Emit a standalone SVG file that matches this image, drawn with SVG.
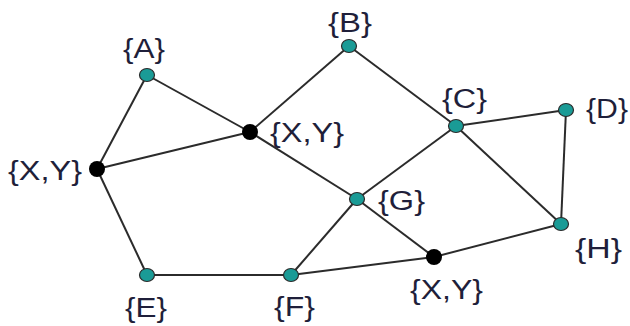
<svg xmlns="http://www.w3.org/2000/svg" width="630" height="326" viewBox="0 0 630 326">
<style>
.e{stroke:#2b2b2b;stroke-width:2;fill:none}
.t{fill:#1a9b96;stroke:#2a2a2a;stroke-width:1.2}
.k{fill:#000}
text{font-family:"Liberation Sans",Arial,sans-serif;font-size:27px;fill:#1f1f3a}
</style>
<rect width="630" height="326" fill="#fff"/>
<g id="edges">
<line class="e" x1="147" y1="75" x2="97" y2="169"/>
<line class="e" x1="147" y1="75" x2="250" y2="132"/>
<line class="e" x1="97" y1="169" x2="250" y2="132"/>
<line class="e" x1="250" y1="132" x2="349" y2="46"/>
<line class="e" x1="349" y1="46" x2="456" y2="126"/>
<line class="e" x1="250" y1="132" x2="357" y2="199"/>
<line class="e" x1="357" y1="199" x2="434" y2="257"/>
<line class="e" x1="456" y1="126" x2="566" y2="110"/>
<line class="e" x1="456" y1="126" x2="357" y2="199"/>
<line class="e" x1="456" y1="126" x2="561" y2="224"/>
<line class="e" x1="566" y1="110" x2="561" y2="224"/>
<line class="e" x1="357" y1="199" x2="291" y2="275"/>
<line class="e" x1="97" y1="169" x2="147" y2="275"/>
<line class="e" x1="147" y1="275" x2="291" y2="275"/>
<line class="e" x1="291" y1="275" x2="434" y2="257"/>
<line class="e" x1="434" y1="257" x2="561" y2="224"/>
</g>
<g id="nA"><ellipse class="t" cx="147" cy="75" rx="7.5" ry="6.5"/><text x="123" y="58" textLength="42" lengthAdjust="spacingAndGlyphs">{A}</text></g>
<g id="nB"><ellipse class="t" cx="349" cy="46" rx="7.5" ry="6.5"/><text x="328" y="32" textLength="44" lengthAdjust="spacingAndGlyphs">{B}</text></g>
<g id="nC"><ellipse class="t" cx="456" cy="126" rx="7.5" ry="6.5"/><text x="442" y="108" textLength="45" lengthAdjust="spacingAndGlyphs">{C}</text></g>
<g id="nD"><ellipse class="t" cx="566" cy="110" rx="7.5" ry="6.5"/><text x="586" y="118" textLength="42" lengthAdjust="spacingAndGlyphs">{D}</text></g>
<g id="nG"><ellipse class="t" cx="357" cy="199" rx="7.5" ry="6.5"/><text x="378" y="210" textLength="47" lengthAdjust="spacingAndGlyphs">{G}</text></g>
<g id="nH"><ellipse class="t" cx="561" cy="224" rx="7.5" ry="6.5"/><text x="575" y="258" textLength="47" lengthAdjust="spacingAndGlyphs">{H}</text></g>
<g id="nE"><ellipse class="t" cx="147" cy="275" rx="7.5" ry="6.5"/><text x="125" y="317" textLength="42" lengthAdjust="spacingAndGlyphs">{E}</text></g>
<g id="nF"><ellipse class="t" cx="291" cy="275" rx="7.5" ry="6.5"/><text x="274" y="316" textLength="41" lengthAdjust="spacingAndGlyphs">{F}</text></g>
<g id="nXY1"><circle class="k" cx="97" cy="169" r="8"/><text x="8" y="180" textLength="74" lengthAdjust="spacingAndGlyphs">{X,Y}</text></g>
<g id="nXY2"><circle class="k" cx="250" cy="132" r="8"/><text x="270" y="142" textLength="74" lengthAdjust="spacingAndGlyphs">{X,Y}</text></g>
<g id="nXY3"><circle class="k" cx="434" cy="257" r="8"/><text x="410" y="299" textLength="73" lengthAdjust="spacingAndGlyphs">{X,Y}</text></g>
</svg>
